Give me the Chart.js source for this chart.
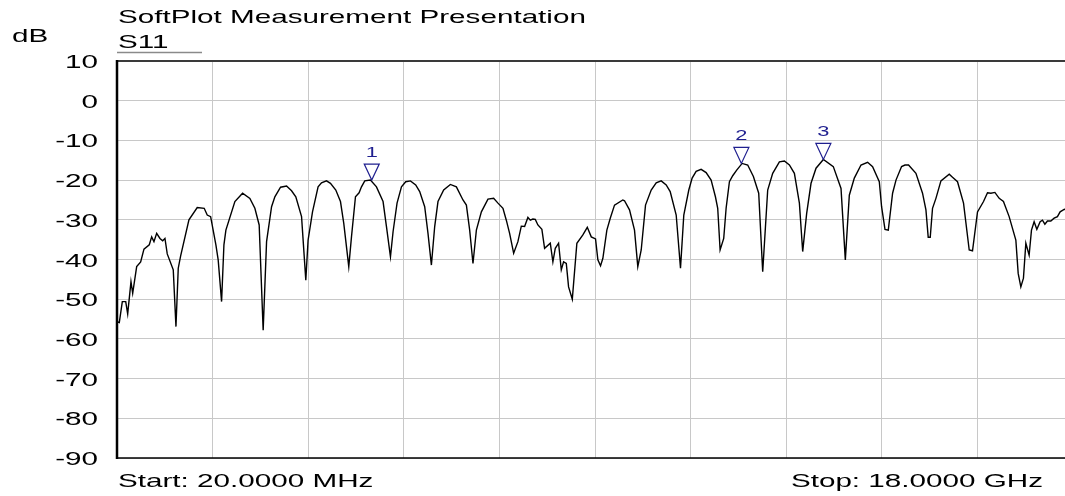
<!DOCTYPE html>
<html>
<head>
<meta charset="utf-8">
<title>SoftPlot Measurement Presentation</title>
<script src="https://cdn.jsdelivr.net/npm/chart.js@4.4.1/dist/chart.umd.min.js"></script>
<style>
  html, body { margin: 0; padding: 0; background: #fff; overflow: hidden; }
  #wrap { position: absolute; left: 0; top: 0; width: 1080px; height: 496px; }
</style>
</head>
<body>
<div id="wrap"><canvas id="chartMy1" width="1080" height="496"></canvas></div>
<script>
// trace: frequency in MHz, S11 in dB
var freqMHz = [26, 63, 120, 184, 221, 283, 315, 390, 465, 527, 627, 672, 715, 766, 828, 879, 922, 965, 1078, 1129,
     1172, 1217, 1373, 1529, 1660, 1717, 1781, 1880, 1923, 1987, 2031, 2068, 2237, 2382, 2519, 2613, 2694, 2769, 2833, 2927,
     2989, 3096, 3209, 3303, 3383, 3491, 3571, 3614, 3697, 3802, 3866, 3960, 4035, 4135, 4223, 4285, 4379, 4430, 4505, 4573,
     4618, 4680, 4787, 4900, 5024, 5088, 5163, 5212, 5287, 5370, 5450, 5539, 5638, 5713, 5807, 5869, 5933, 5995, 6057, 6164,
     6290, 6403, 6527, 6591, 6653, 6715, 6779, 6873, 6997, 7104, 7185, 7279, 7342, 7404, 7480, 7560, 7624, 7686, 7748, 7793,
     7842, 7887, 7936, 8011, 8062, 8169, 8218, 8263, 8325, 8376, 8419, 8470, 8513, 8583, 8669, 8782, 8865, 8940, 9020, 9064,
     9114, 9158, 9233, 9297, 9377, 9533, 9565, 9659, 9753, 9815, 9879, 9960, 10067, 10161, 10255, 10349, 10424, 10537, 10618, 10680,
     10774, 10837, 10912, 11006, 11100, 11194, 11275, 11318, 11363, 11431, 11476, 11538, 11600, 11675, 11777, 11882, 11989, 12089, 12164, 12258,
     12352, 12478, 12572, 12666, 12760, 12854, 12916, 12991, 13073, 13167, 13305, 13492, 13637, 13718, 13793, 13887, 14013, 14137, 14231, 14357,
     14400, 14464, 14526, 14607, 14671, 14776, 14840, 14907, 15046, 15170, 15234, 15277, 15315, 15358, 15422, 15516, 15672, 15734, 15828, 15941,
     16048, 16110, 16204, 16317, 16392, 16456, 16531, 16612, 16692, 16799, 16925, 16969, 17019, 17068, 17113, 17175, 17219, 17269, 17320, 17382,
     17426, 17471, 17519, 17583, 17645, 17707, 17758, 17833, 18000];
var s11dB = [-55.7, -55.9, -50.6, -50.6, -53.7, -45.6, -48.5, -41.8, -40.6, -37.4, -36.3, -34.3, -35.5, -33.4, -34.7, -35.3, -34.7, -38.6, -42.6, -56.9,
     -42.2, -39.1, -30.0, -26.9, -27.1, -28.8, -29.2, -36.3, -40.1, -50.6, -36.3, -32.6, -25.4, -23.3, -24.6, -27.1, -31.3, -57.8, -35.5, -26.7,
     -24.2, -21.8, -21.5, -22.7, -24.2, -29.2, -45.2, -35.1, -28.0, -21.7, -20.7, -20.2, -20.8, -22.5, -25.4, -30.9, -41.8, -34.3, -24.2, -23.2,
     -21.7, -20.2, -20.0, -21.7, -25.4, -31.7, -39.3, -33.0, -25.8, -21.7, -20.4, -20.2, -21.2, -22.9, -26.7, -33.4, -41.4, -31.7, -25.4, -22.5,
     -21.1, -21.7, -25.0, -26.3, -32.6, -41.0, -32.6, -28.0, -24.8, -24.6, -25.8, -27.1, -30.1, -33.4, -38.4, -35.5, -31.6, -31.7, -29.4, -30.1,
     -29.8, -29.9, -31.3, -32.4, -37.2, -35.9, -40.6, -37.2, -35.9, -42.6, -40.6, -41.0, -46.9, -50.0, -35.9, -33.8, -31.9, -34.3, -34.8, -40.1,
     -41.6, -39.7, -32.6, -29.6, -26.3, -25.0, -25.2, -27.5, -32.6, -41.8, -37.6, -26.3, -22.5, -20.7, -20.2, -21.2, -22.9, -28.8, -42.2, -28.8,
     -22.5, -19.5, -17.8, -17.3, -18.1, -20.0, -24.2, -27.1, -37.6, -34.7, -27.1, -20.4, -18.9, -17.5, -15.8, -16.2, -19.1, -23.3, -43.1, -22.5,
     -18.3, -15.4, -15.2, -16.2, -18.3, -25.8, -38.0, -28.4, -20.8, -17.0, -14.8, -16.6, -22.1, -40.1, -23.8, -19.5, -16.2, -15.5, -16.6, -20.4,
     -26.7, -32.4, -32.6, -23.3, -20.0, -16.6, -16.2, -16.2, -18.3, -23.3, -27.5, -34.4, -34.4, -27.1, -24.6, -20.2, -18.5, -19.3, -20.4, -25.8,
     -37.6, -37.8, -28.0, -25.4, -23.2, -23.3, -23.1, -24.6, -25.4, -29.2, -35.1, -43.5, -46.9, -44.7, -35.9, -38.9, -32.6, -30.5, -32.4, -30.5,
     -30.1, -31.1, -30.3, -30.3, -29.6, -29.2, -28.0, -27.4, -26.8];

// markers
var markerLabels = ['1', '2', '3'];
var markerMHz = [4811, 11763, 13305];
var markerDb = [-20.0, -15.8, -14.8];

// axis
var dbTicks = [10, 0, -10, -20, -30, -40, -50, -60, -70, -80, -90];
var freqGrid = [20, 1818, 3616, 5414, 7212, 9010, 10808, 12606, 14404, 16202, 18000];
var startLabel = 'Start: 20.0000 MHz';
var stopLabel = 'Stop: 18.0000 GHz';

var FONT = '"Liberation Sans", Arial, sans-serif';
var STRETCH = 1.56;

function wideText(ctx, txt, x, y, size, align, color) {
     ctx.save();
     ctx.font = size + 'px ' + FONT;
     ctx.fillStyle = color || '#000';
     ctx.textAlign = align || 'left';
     ctx.textBaseline = 'alphabetic';
     ctx.translate(x, y);
     ctx.scale(STRETCH, 1);
     ctx.fillText(txt, 0, 0);
     ctx.restore();
}

var decor = {
     id: 'decor',
     afterDraw: function(chart) {
          var ctx = chart.ctx;
          var a = chart.chartArea;
          var xs = chart.scales.x, ys = chart.scales.y;

          // frame
          ctx.save();
          ctx.strokeStyle = '#3a3a3a';
          ctx.lineWidth = 2;
          ctx.beginPath(); ctx.moveTo(a.left, a.top); ctx.lineTo(1080, a.top); ctx.stroke();
          ctx.strokeStyle = '#000';
          ctx.lineWidth = 1.5;
          ctx.beginPath(); ctx.moveTo(a.left, a.bottom); ctx.lineTo(1080, a.bottom); ctx.stroke();
          ctx.lineWidth = 2.5;
          ctx.beginPath(); ctx.moveTo(a.left, a.top - 1); ctx.lineTo(a.left, a.bottom + 1); ctx.stroke();
          ctx.restore();

          // y tick labels
          dbTicks.forEach(function(v) {
               wideText(ctx, String(v), 98, ys.getPixelForValue(v) + 7, 19, 'right');
          });

          // titles
          wideText(ctx, 'SoftPlot Measurement Presentation', 118, 23, 19);
          wideText(ctx, 'S11', 118, 48, 19);
          wideText(ctx, 'dB', 12, 42, 19);
          ctx.save();
          ctx.strokeStyle = '#8a8a8a';
          ctx.lineWidth = 1.5;
          ctx.beginPath(); ctx.moveTo(117, 52.5); ctx.lineTo(202, 52.5); ctx.stroke();
          ctx.restore();

          wideText(ctx, startLabel, 118, 487, 19);
          wideText(ctx, stopLabel, 1043, 487, 19, 'right');

          // markers
          ctx.save();
          ctx.strokeStyle = '#1f1f8f';
          ctx.lineWidth = 1.2;
          markerMHz.forEach(function(f, i) {
               var px = xs.getPixelForValue(f);
               var py = ys.getPixelForValue(markerDb[i]);
               ctx.beginPath();
               ctx.moveTo(px, py);
               ctx.lineTo(px - 7.5, py - 16);
               ctx.lineTo(px + 7.5, py - 16);
               ctx.closePath();
               ctx.stroke();
               wideText(ctx, markerLabels[i], px, py - 23, 14, 'center', '#1f1f8f');
          });
          ctx.restore();
     }
};

var config = {
     type: 'line',
     data: {
          datasets: [{
               label: 'S11',
               data: freqMHz.map(function(f, i) { return { x: f, y: s11dB[i] }; }),
               borderColor: '#000',
               borderWidth: 1.4,
               pointRadius: 0,
               tension: 0,
               fill: false
          }]
     },
     options: {
          responsive: false,
          animation: false,
          layout: { padding: { left: 0, right: 7, top: 61, bottom: 38 } },
          plugins: {
               legend: { display: false },
               title: { display: false },
               tooltip: { enabled: false }
          },
          scales: {
               x: {
                    type: 'linear',
                    min: 20,
                    max: 18000,
                    afterBuildTicks: function(s) { s.ticks = freqGrid.map(function(v) { return { value: v }; }); },
                    ticks: { display: false },
                    grid: { color: '#c8c8c8', lineWidth: 1, drawTicks: false },
                    border: { display: false }
               },
               y: {
                    min: -90,
                    max: 10,
                    ticks: { display: false, stepSize: 10 },
                    afterFit: function(s) { s.width = 117; },
                    grid: { color: '#c8c8c8', lineWidth: 1, drawTicks: false },
                    border: { display: false }
               }
          }
     },
     plugins: [decor]
};

window.onload = function() {
     var ctx = document.getElementById("chartMy1").getContext("2d");
     window.myChart = new Chart(ctx, config);
};
</script>
</body>
</html>
